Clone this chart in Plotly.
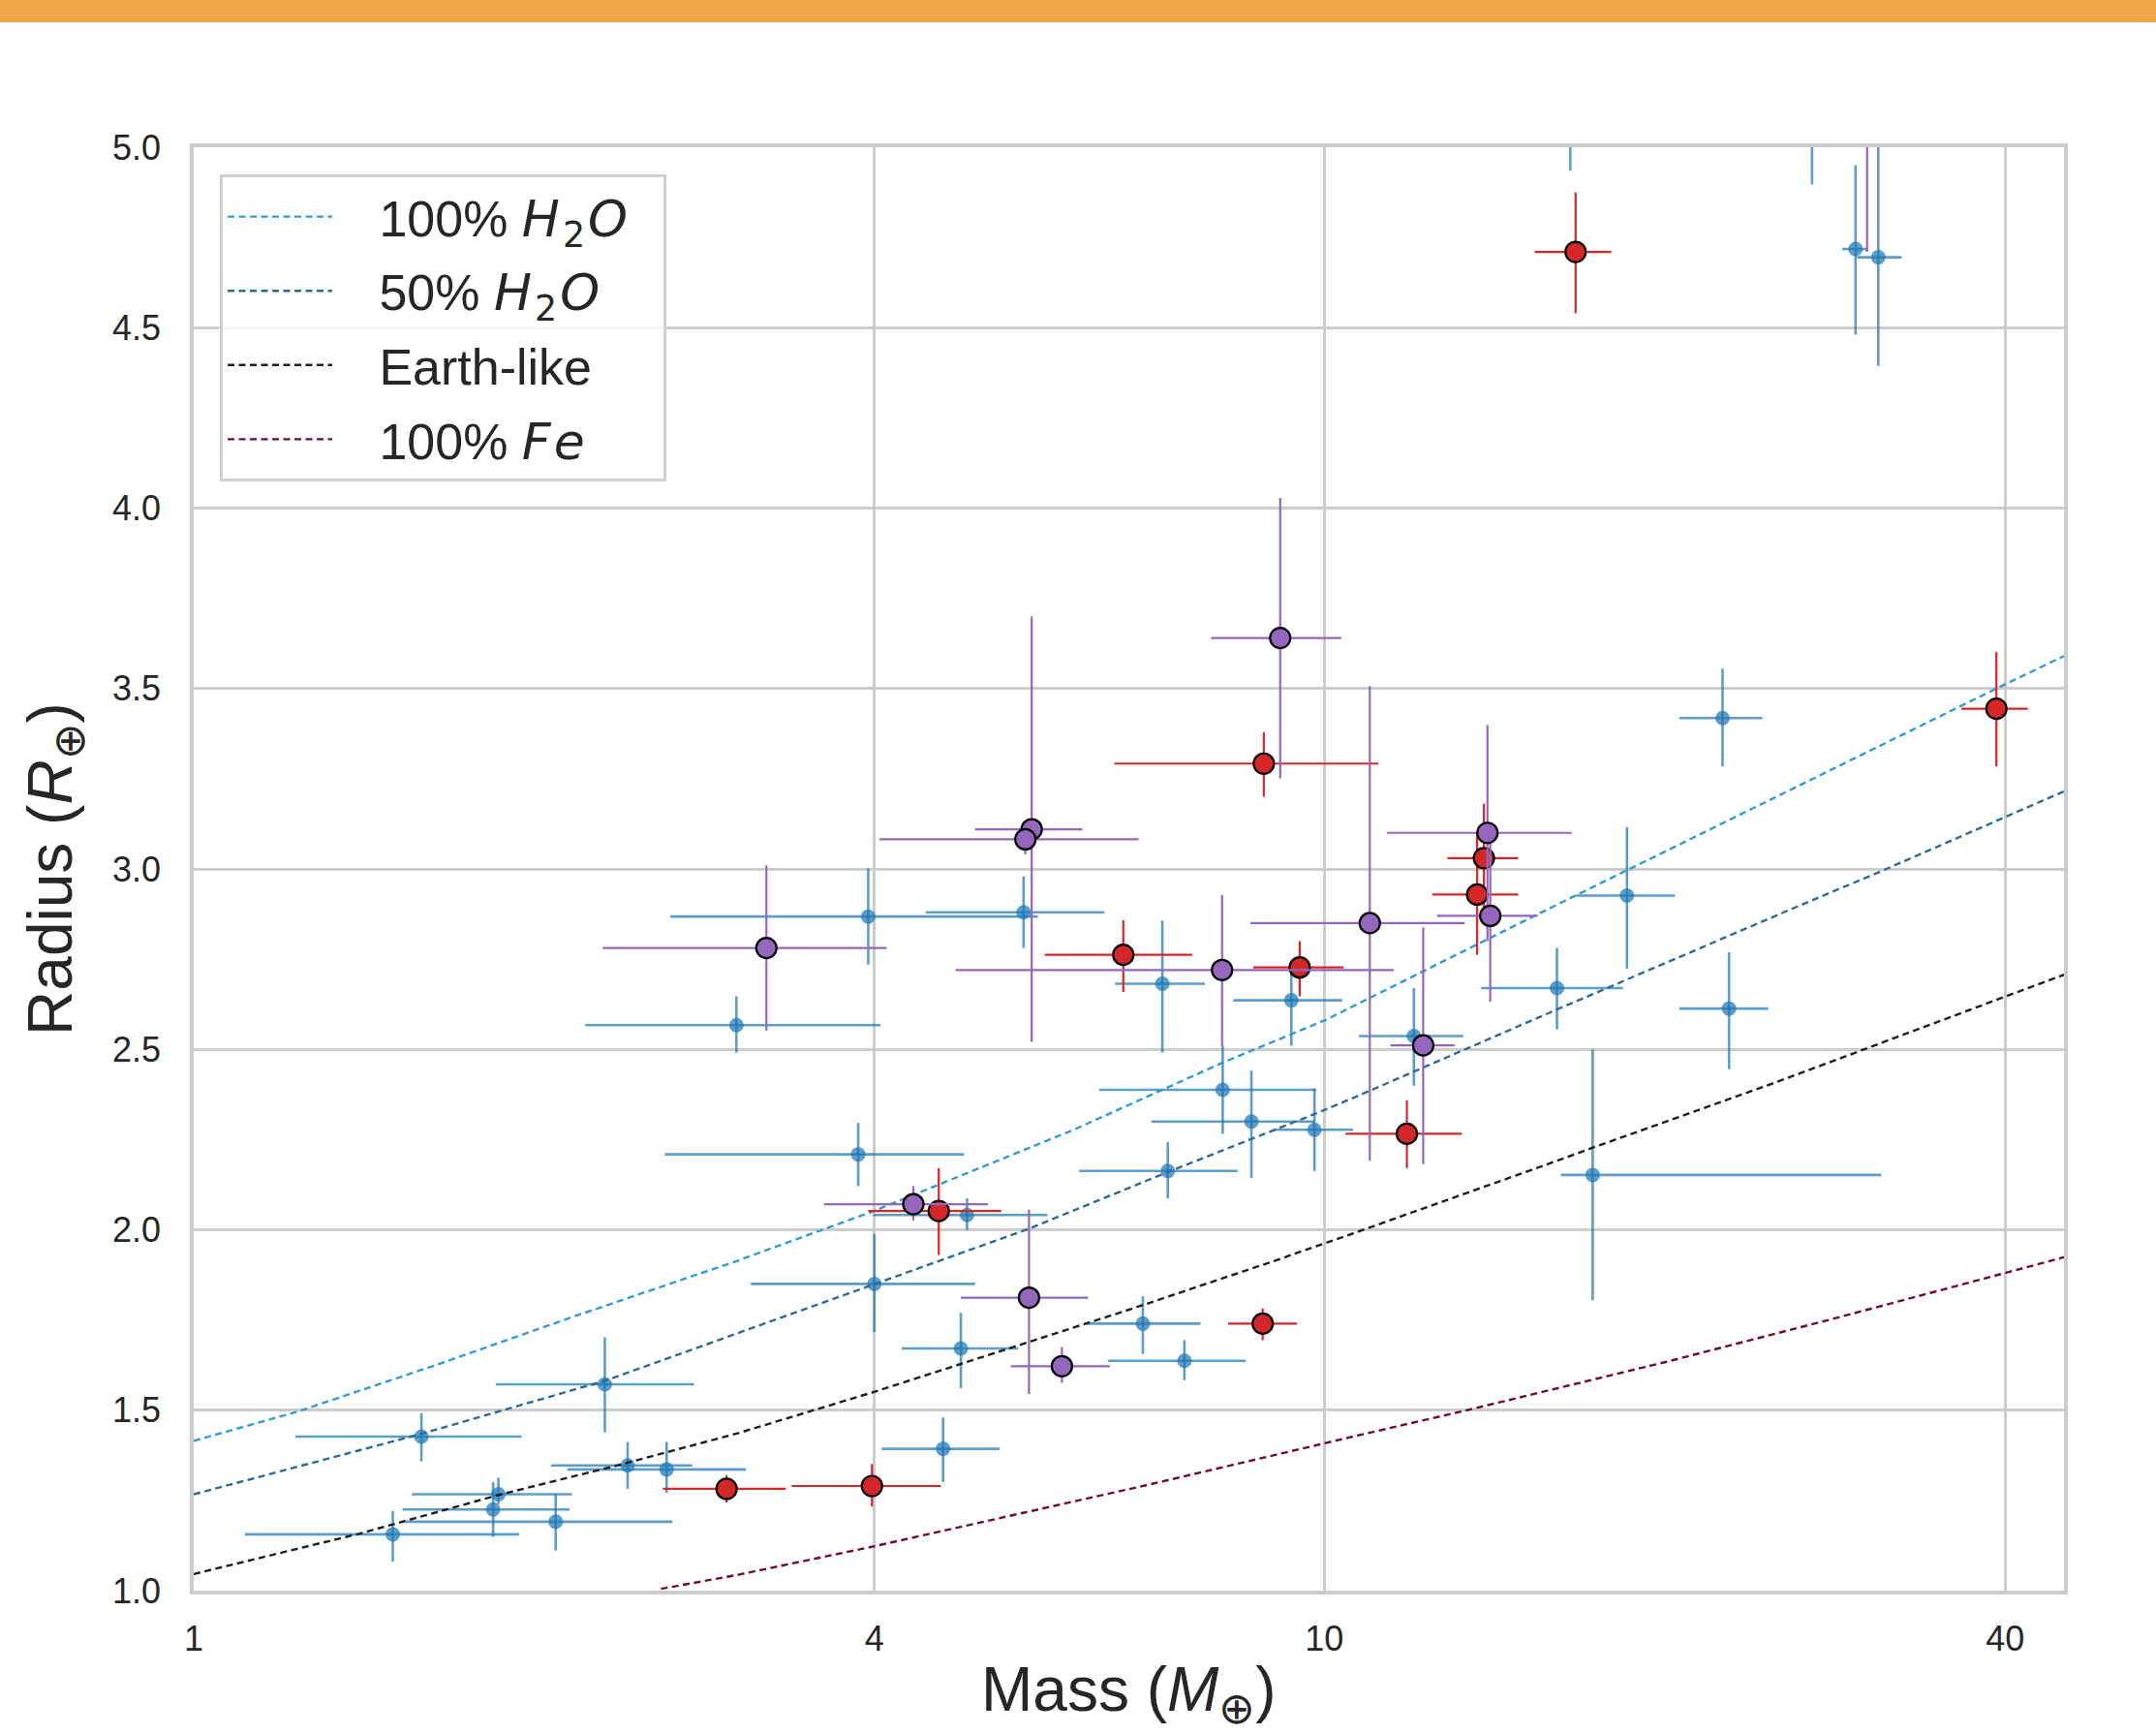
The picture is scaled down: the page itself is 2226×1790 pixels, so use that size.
import numpy as np
import plotly.graph_objects as go

# ---------------- model curves (mass [M_earth], radius [R_earth]) ----------------
h2o100_mass = [1.0, 1.235, 1.637, 2.17, 3.0, 3.98, 5.99, 7.19, 8.14, 10.0, 15.8, 39.3, 45.1]
h2o100_radius = [1.415, 1.496, 1.625, 1.76, 1.91, 2.05, 2.276, 2.388, 2.464, 2.58, 2.89, 3.50, 3.59]

h2o50_mass = [1.0, 1.592, 2.313, 3.02, 4.01, 5.48, 7.27, 9.79, 10.67, 15.83, 25.8, 31.1, 45.1]
h2o50_radius = [1.267, 1.435, 1.582, 1.712, 1.851, 2.003, 2.16, 2.32, 2.369, 2.602, 2.887, 2.994, 3.215]

earth_mass = [1.0, 1.402, 1.86, 2.363, 3.02, 4.0, 4.66, 6.8, 8.94, 10.67, 15.83, 17.26, 25.0, 40.2, 45.1]
earth_radius = [1.046, 1.158, 1.265, 1.346, 1.435, 1.551, 1.618, 1.784, 1.909, 1.993, 2.184, 2.227, 2.407,
                2.649, 2.707]

fe_mass = [2.59, 3.02, 4.0, 4.66, 7.0, 10.67, 13.41, 20.0, 28.0, 40.2, 45.1]
fe_radius = [1.005, 1.043, 1.123, 1.170, 1.294, 1.429, 1.501, 1.633, 1.751, 1.882, 1.924]

MATH = '<span style="font-family:DejaVu Sans;letter-spacing:3px">'
PAD = "\u00a0\u00a0\u00a0"
END = "\u00a0\u00a0"
curve_names = [PAD + "100% " + MATH + "<i>H</i><sub>2</sub><i>O</i></span>" + END,
               PAD + "50% " + MATH + "<i>H</i><sub>2</sub><i>O</i></span>" + END,
               PAD + "Earth-like" + END,
               PAD + "100% " + MATH + "<i>Fe</i></span>" + END]
curve_colors = ["#339ad2", "#2d6a96", "#1e1e1e", "#6b0a3b"]

# ---------------- blue sample ----------------
blue_mass = [1.50, 1.59, 1.84, 1.86, 2.09, 2.31, 2.42, 2.62, 4.00, 4.60, 4.77, 4.83, 3.87, 3.02, 3.95, 5.42,
             7.19, 9.35, 8.13, 8.62, 9.80, 7.27, 6.91, 7.52, 12.0, 16.06, 18.52, 22.8, 17.27, 22.5, 29.5, 30.9,
             16.5, 27.0]
blue_mass_lo = [1.11, 1.23, 1.53, 1.56, 1.54, 1.85, 2.07, 2.14, 3.11, 4.06, 4.23, 3.99, 2.61, 2.22, 2.64, 4.44,
                6.53, 8.31, 6.32, 7.03, 9.02, 6.07, 6.16, 6.44, 10.73, 13.76, 16.70, 20.6, 16.19, 20.6, 28.7, 29.6,
                15.9, 26.0]
blue_mass_hi = [1.94, 1.95, 2.15, 2.16, 2.65, 2.77, 2.76, 3.08, 4.91, 5.16, 5.36, 5.69, 4.80, 4.05, 5.58, 6.39,
                7.84, 10.37, 9.83, 9.80, 10.60, 8.38, 7.77, 8.52, 13.27, 18.37, 20.43, 24.7, 31.09, 24.4, 30.2, 32.4,
                17.1, 28.0]
blue_radius = [1.156, 1.427, 1.225, 1.267, 1.191, 1.572, 1.347, 1.336, 1.850, 1.393, 1.671, 2.041, 2.209, 2.567,
               2.868, 2.880, 2.682, 2.636, 2.388, 2.300, 2.277, 2.163, 1.740, 1.637, 2.537, 2.670, 2.926, 2.613,
               2.152, 3.418, 4.718, 4.695, 5.30, 5.20]
blue_radius_lo = [1.080, 1.358, 1.149, 1.240, 1.111, 1.439, 1.282, 1.271, 1.717, 1.301, 1.561, 1.999, 2.121, 2.491,
                  2.735, 2.781, 2.491, 2.510, 2.266, 2.144, 2.163, 2.087, 1.656, 1.583, 2.399, 2.556, 2.724, 2.445,
                  1.805, 3.284, 4.481, 4.394, 4.935, 4.897]
blue_radius_hi = [1.221, 1.492, 1.301, 1.313, 1.267, 1.702, 1.412, 1.412, 1.988, 1.480, 1.770, 2.087, 2.296, 2.647,
                  3.002, 2.979, 2.857, 2.720, 2.510, 2.441, 2.392, 2.243, 1.816, 1.694, 2.670, 2.781, 3.116, 2.769,
                  2.499, 3.555, 4.950, 5.00, 5.66, 5.50]

# ---------------- red sample ----------------
red_mass = [2.96, 3.98, 4.56, 6.64, 8.84, 9.51, 11.83, 13.65, 13.84, 16.68, 39.3, 8.82]
red_mass_lo = [2.60, 3.38, 3.95, 5.66, 6.52, 8.65, 10.44, 12.46, 12.85, 15.35, 36.6, 8.22]
red_mass_hi = [3.34, 4.58, 5.18, 7.64, 11.16, 10.40, 13.23, 14.84, 14.84, 17.94, 41.9, 9.46]
red_radius = [1.282, 1.290, 2.052, 2.762, 3.292, 2.727, 2.266, 2.929, 3.030, 4.710, 3.444, 1.740]
red_radius_lo = [1.244, 1.233, 1.930, 2.659, 3.200, 2.647, 2.171, 2.762, 2.876, 4.540, 3.284, 1.694]
red_radius_hi = [1.320, 1.351, 2.171, 2.858, 3.379, 2.800, 2.359, 3.103, 3.181, 4.875, 3.601, 1.782]

# ---------------- purple sample ----------------
purple_mass = [3.21, 5.51, 5.44, 9.14, 8.12, 10.97, 13.94, 12.23, 14.02, 4.33, 5.48, 5.86, 30.2]
purple_mass_lo = [2.30, 4.91, 4.04, 7.94, 4.72, 8.60, 11.36, 11.44, 12.58, 3.61, 4.77, 5.28, 29.5]
purple_mass_hi = [4.10, 6.11, 6.85, 10.35, 11.52, 13.31, 16.55, 13.04, 15.44, 5.04, 6.18, 6.46, 30.9]
purple_radius = [2.781, 3.110, 3.082, 3.640, 2.720, 2.850, 3.100, 2.511, 2.870, 2.071, 1.812, 1.622, 5.10]
purple_radius_lo = [2.552, 2.521, 3.040, 3.251, 2.509, 2.191, 2.800, 2.182, 2.632, 2.026, 1.545, 1.576, 4.71]
purple_radius_hi = [3.010, 3.700, 3.120, 4.028, 2.928, 3.507, 3.399, 2.838, 3.110, 2.121, 2.056, 1.675, 5.49]

# ---------------- axis ticks ----------------
x_tickvals = [1, 4, 10, 40]
x_ticktext = ["1", "4", "10", "40"]
y_tickvals = [1.0, 1.5, 2.0, 2.5, 3.0, 3.5, 4.0, 4.5, 5.0]
y_ticktext = ["1.0", "1.5", "2.0", "2.5", "3.0", "3.5", "4.0", "4.5", "5.0"]


def errs(v, lo, hi):
    v = np.array(v); lo = np.array(lo); hi = np.array(hi)
    return (hi - v).tolist(), (v - lo).tolist()


fig = go.Figure()

# blue points
bx_p, bx_m = errs(blue_mass, blue_mass_lo, blue_mass_hi)
by_p, by_m = errs(blue_radius, blue_radius_lo, blue_radius_hi)
blue_c = "rgba(31,119,180,0.72)"
fig.add_trace(go.Scatter(
    x=blue_mass, y=blue_radius, mode="markers", showlegend=False,
    marker=dict(color=blue_c, size=15, line=dict(width=0)),
    error_x=dict(type="data", symmetric=False, array=bx_p, arrayminus=bx_m, color=blue_c, thickness=2.6, width=0),
    error_y=dict(type="data", symmetric=False, array=by_p, arrayminus=by_m, color=blue_c, thickness=2.6, width=0),
))

# model curves
for xs, ys, nm, col in zip([h2o100_mass, h2o50_mass, earth_mass, fe_mass],
                           [h2o100_radius, h2o50_radius, earth_radius, fe_radius],
                           curve_names, curve_colors):
    fig.add_trace(go.Scatter(x=xs, y=ys, mode="lines", name=nm, legendgroup=nm,
                             line=dict(color=col, width=2.4, dash="7px,4.5px")))

# red and purple points
for xm, xl, xh, ym, yl, yh, col in [
    (red_mass, red_mass_lo, red_mass_hi, red_radius, red_radius_lo, red_radius_hi, "#d62728"),
    (purple_mass, purple_mass_lo, purple_mass_hi, purple_radius, purple_radius_lo, purple_radius_hi, "#9467bd"),
]:
    ex_p, ex_m = errs(xm, xl, xh)
    ey_p, ey_m = errs(ym, yl, yh)
    fig.add_trace(go.Scatter(
        x=xm, y=ym, mode="markers", showlegend=False,
        marker=dict(color=col, size=21, line=dict(color="black", width=2.2)),
        error_x=dict(type="data", symmetric=False, array=ex_p, arrayminus=ex_m, color=col, thickness=2.2, width=0),
        error_y=dict(type="data", symmetric=False, array=ey_p, arrayminus=ey_m, color=col, thickness=2.2, width=0),
    ))

H, PT, PB = 1790, 152, 148
plot_h = H - PT - PB
fig.add_shape(type="rect", xref="paper", yref="paper",
              x0=-0.2, x1=1.2, y0=1 + (PT - 23) / plot_h, y1=1 + (PT + 5) / plot_h,
              fillcolor="#F2A548", line=dict(width=0), layer="above")

# x-axis title placed as annotation so it can sit as low as in the reference
fig.add_annotation(text="Mass (<i>M</i><sub>⊕</sub>)", xref="paper", yref="paper",
                   x=0.5, y=-(1748 - (H - PB)) / plot_h, xanchor="center", yanchor="middle",
                   showarrow=False, font=dict(size=64, color="#262626"))

grid = "#cccccc"
fig.update_layout(
    width=2226, height=H,
    margin=dict(l=200, r=95, t=PT, b=PB, autoexpand=False),
    paper_bgcolor="white", plot_bgcolor="white",
    font=dict(family="Liberation Sans, Arial, sans-serif", color="#262626"),
    legend=dict(x=0.014, y=0.981, xanchor="left", yanchor="top",
                bgcolor="rgba(255,255,255,0.8)", bordercolor="#d0d0d0", borderwidth=3,
                font=dict(size=52, color="#262626"), itemwidth=108, tracegroupgap=6,
                traceorder="grouped"),
    xaxis=dict(type="log", range=[0, np.log10(45.1)], tickvals=x_tickvals, ticktext=x_ticktext,
               showgrid=True, gridcolor=grid, gridwidth=2.5, zeroline=False,
               showline=True, linecolor=grid, linewidth=3.5, mirror=True,
               ticks="", ticklabelstandoff=15, tickfont=dict(size=36, color="#262626")),
    yaxis=dict(range=[1, 5], tickvals=y_tickvals, ticktext=y_ticktext,
               showgrid=True, gridcolor=grid, gridwidth=2.5, zeroline=False,
               showline=True, linecolor=grid, linewidth=3.5, mirror=True,
               ticks="", ticklabelstandoff=23, tickfont=dict(size=36, color="#262626"),
               title=dict(text="Radius (<i>R</i><sub>⊕</sub>)", font=dict(size=64, color="#262626"), standoff=22)),
)

fig.write_html("out.html", config={"displayModeBar": False},
               post_script="document.body.style.margin='0px';")
